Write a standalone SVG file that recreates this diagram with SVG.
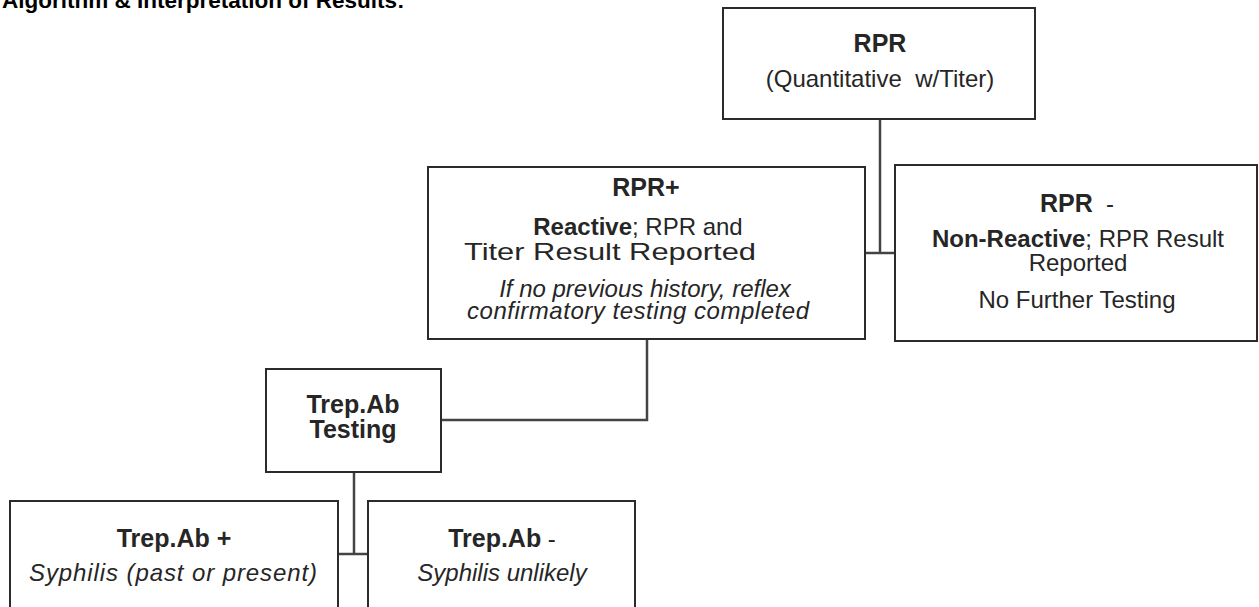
<svg xmlns="http://www.w3.org/2000/svg" width="1259" height="607" viewBox="0 0 1259 607">
  <style>
    .box { fill: #ffffff; stroke: #2b2b2b; stroke-width: 2; }
    .conn { fill: none; stroke: #444444; stroke-width: 2.5; }
    text { font-family: "Liberation Sans", Arial, sans-serif; fill: #262626; font-size: 24px; }
    .c { text-anchor: middle; }
    .b { font-weight: bold; }
    .h { font-weight: bold; font-size: 25px; }
    .i { font-style: italic; }
    .title { font-weight: bold; font-size: 22.5px; fill: #000000; }
  </style>
  <rect x="0" y="0" width="1259" height="607" fill="#ffffff"/>

  <text class="title" x="2" y="8">Algorithm &amp; Interpretation of Results:</text>

  <g id="connectors">
    <polyline class="conn" points="880,119 880,253"/>
    <polyline class="conn" points="865,253 895,253"/>
    <polyline class="conn" points="647,339 647,420 441,420"/>
    <polyline class="conn" points="354,472 354,554"/>
    <polyline class="conn" points="338,554 368,554"/>
  </g>

  <g id="node-rpr">
    <rect class="box" x="723" y="8" width="312" height="111"/>
    <text class="c h" x="880" y="52">RPR</text>
    <text class="c" x="880" y="87" font-size="25" xml:space="preserve">(Quantitative  w/Titer)</text>
  </g>

  <g id="node-rpr-pos">
    <rect class="box" x="428" y="167" width="437" height="172"/>
    <text class="c h" x="646" y="196">RPR+</text>
    <text class="c" x="638" y="235"><tspan class="b">Reactive</tspan>; RPR and</text>
    <text class="c" x="610" y="260" textLength="292" lengthAdjust="spacingAndGlyphs">Titer Result Reported</text>
    <text class="c i" x="645" y="297">If no previous history, reflex</text>
    <text class="c i" x="638" y="319" textLength="342" lengthAdjust="spacing">confirmatory testing completed</text>
  </g>

  <g id="node-rpr-neg">
    <rect class="box" x="895" y="165" width="362" height="176"/>
    <text class="c" x="1077" y="212" xml:space="preserve"><tspan class="h">RPR</tspan>  -</text>
    <text class="c" x="1078" y="247"><tspan class="b">Non-Reactive</tspan>; RPR Result</text>
    <text class="c" x="1078" y="271">Reported</text>
    <text class="c" x="1077" y="308">No Further Testing</text>
  </g>

  <g id="node-trep">
    <rect class="box" x="266" y="369" width="175" height="103"/>
    <text class="c h" x="353" y="413">Trep.Ab</text>
    <text class="c h" x="353" y="438">Testing</text>
  </g>

  <g id="node-trep-pos">
    <rect class="box" x="10" y="501" width="328" height="120"/>
    <text class="c h" x="174" y="547">Trep.Ab +</text>
    <text class="c i" x="173" y="581" textLength="288" lengthAdjust="spacing">Syphilis (past or present)</text>
  </g>

  <g id="node-trep-neg">
    <rect class="box" x="368" y="501" width="267" height="120"/>
    <text class="c" x="502" y="547"><tspan class="h">Trep.Ab</tspan> -</text>
    <text class="c i" x="502" y="581">Syphilis unlikely</text>
  </g>
</svg>
